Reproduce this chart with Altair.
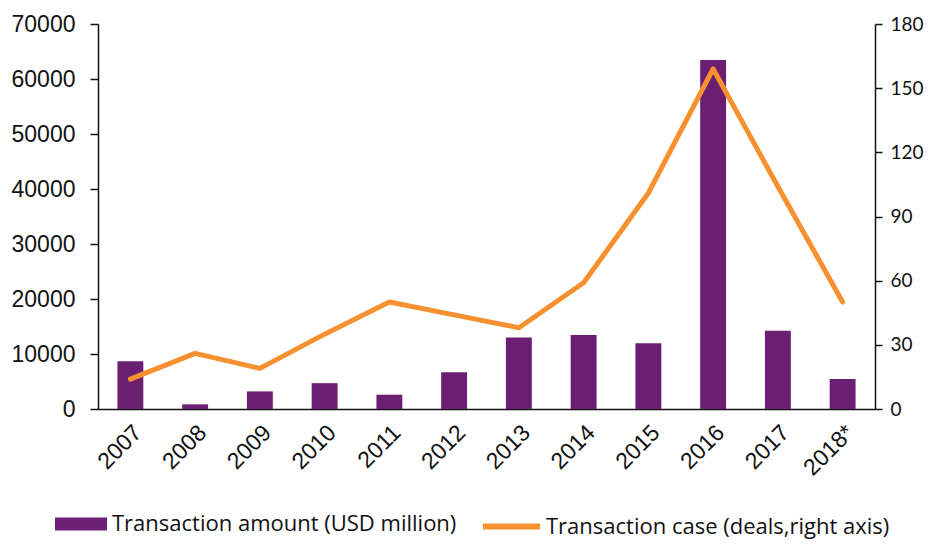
import altair as alt
import pandas as pd

years = ["2007", "2008", "2009", "2010", "2011", "2012", "2013", "2014", "2015", "2016", "2017", "2018*"]
amount = [8700, 850, 3200, 4700, 2600, 6700, 13000, 13450, 11950, 63450, 14250, 5450]
deals = [14, 26, 19, 35, 50, 44, 38, 59, 101, 159, 104, 50]

bar_name = "Transaction amount (USD million)"
line_name = "Transaction case (deals,right axis)"
PURPLE = "#6B1F73"
ORANGE = "#F7912F"

df = pd.DataFrame({"year": years, "amount": amount, "deals": deals,
                   "s1": bar_name, "s2": line_name})

FONT = "Liberation Sans"
LEG_FONT = "Open Sans"

x = alt.X("year:N", sort=years, title=None,
          scale=alt.Scale(paddingInner=0.6, paddingOuter=0.3),
          axis=alt.Axis(labelAngle=-45, labelFontSize=23, labelFont=FONT, labelColor="#111",
                        ticks=False, domain=True, domainColor="#111", domainWidth=1.5,
                        labelPadding=12))

bars = alt.Chart(df).mark_bar(color=PURPLE).encode(
    x=x,
    y=alt.Y("amount:Q", title=None,
            scale=alt.Scale(domain=[0, 70000], nice=False),
            axis=alt.Axis(values=list(range(0, 70001, 10000)), format="d", grid=False,
                          labelFontSize=23, labelFont=FONT, labelColor="#111",
                          domainColor="#111", domainWidth=1.5, tickColor="#111",
                          tickWidth=1.5, tickSize=8, labelPadding=15)),
    color=alt.Color("s1:N", title=None,
                    scale=alt.Scale(domain=[bar_name], range=[PURPLE]),
                    legend=alt.Legend(orient="none", legendX=-43, legendY=474,
                                      symbolType="M-1,-0.25H1V0.25H-1Z", symbolSize=2704,
                                      symbolStrokeWidth=0, symbolOpacity=1,
                                      labelFontSize=22, labelFont=LEG_FONT, labelColor="#111",
                                      labelOffset=5, padding=0, labelLimit=500)),
)

line = alt.Chart(df).mark_line(strokeWidth=5, strokeCap="round", strokeJoin="round").encode(
    x=x,
    y=alt.Y("deals:Q", title=None,
            scale=alt.Scale(domain=[0, 180], nice=False),
            axis=alt.Axis(orient="right", values=list(range(0, 181, 30)), grid=False,
                          labelFontSize=19, labelFont="Lato", labelColor="#111",
                          domainColor="#111", domainWidth=1.5, tickColor="#111",
                          tickWidth=1.5, tickSize=7, labelPadding=8)),
    color=alt.Color("s2:N", title=None,
                    scale=alt.Scale(domain=[line_name], range=[ORANGE]),
                    legend=alt.Legend(orient="none", legendX=382, legendY=471,
                                      symbolType="stroke", symbolSize=3249,
                                      symbolStrokeWidth=6, symbolStrokeColor=ORANGE,
                                      labelFontSize=22, labelFont=LEG_FONT, labelColor="#111",
                                      labelOffset=3, padding=0, labelLimit=500)),
)

chart = alt.layer(bars, line).resolve_scale(y="independent", color="independent").properties(
    width=777, height=385,
    autosize=alt.AutoSizeParams(type="none"),
    padding={"left": 90, "top": 16, "right": 52, "bottom": 130},
).configure_view(stroke=None)

chart.save("out.html", embed_options={"renderer": "svg", "actions": False})
